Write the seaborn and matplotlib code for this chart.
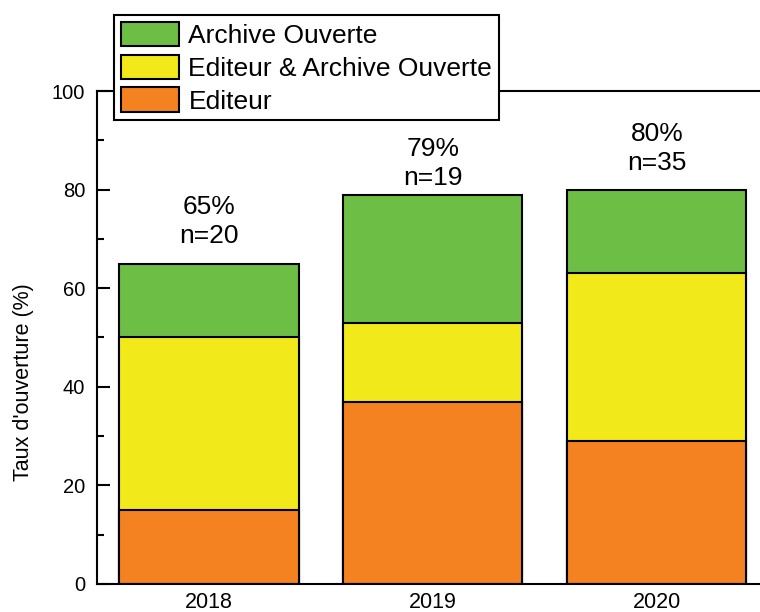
import matplotlib
matplotlib.use("Agg")
import matplotlib.pyplot as plt
import seaborn as sns
import pandas as pd

# === Data ===
years = ["2018", "2019", "2020"]
editeur = [15, 37, 29]
editeur_archive = [35, 16, 34]
archive = [15, 26, 17]
n_papers = [20, 19, 35]
label_gap = [3.2, 0.9, 3.0]

green = "#6cbe45"
yellow = "#f2e91a"
orange = "#f58220"

# === Setup ===
sns.set_theme(style="white")
plt.rcParams["font.family"] = ["Liberation Sans", "DejaVu Sans"]
plt.rcParams["text.color"] = "black"
plt.rcParams["axes.labelcolor"] = "black"
plt.rcParams["xtick.color"] = "black"
plt.rcParams["ytick.color"] = "black"

df = pd.DataFrame({"year": years, "editeur": editeur,
                   "editeur_archive": editeur_archive, "archive": archive})
df["low"] = df["editeur"]
df["mid"] = df["low"] + df["editeur_archive"]
df["top"] = df["mid"] + df["archive"]

fig = plt.figure(figsize=(7.6, 6.12), dpi=100)
ax = fig.add_axes([0.1276, 0.0458, 0.884, 0.8055])

# stacked bars drawn as overlapping cumulative totals
for col, c, lab in [("top", green, "Archive Ouverte"),
                    ("mid", yellow, "Editeur & Archive Ouverte"),
                    ("low", orange, "Editeur")]:
    sns.barplot(data=df, x="year", y=col, color=c, saturation=1, width=0.8,
                edgecolor="black", linewidth=1.5, errorbar=None, label=lab, ax=ax)

# === Labels above bars ===
for i, (total, n) in enumerate(zip(df["top"], n_papers)):
    ax.text(i, total + label_gap[i], f"{total}%\nn={n}", ha="center", va="bottom",
            fontsize=19, linespacing=1.25)

# === Axes styling ===
ax.set_xlim(-0.5, 2.5)
ax.set_ylim(0, 100)
ax.set_yticks(range(0, 101, 20))
ax.set_yticks(range(10, 100, 20), minor=True)
ax.tick_params(axis="y", which="major", direction="in", length=9, width=1.5,
               labelsize=14.5, pad=8.5, left=True)
ax.tick_params(axis="y", which="minor", direction="in", length=5, width=1.5, left=True)
ax.tick_params(axis="x", length=0, labelsize=15.5, pad=6)
ax.set_xlabel("")
ax.set_ylabel("Taux d'ouverture (%)", fontsize=15.5)
ax.yaxis.set_label_coords(-0.094, 0.41)
for s in ax.spines.values():
    s.set_linewidth(1.5)
    s.set_color("black")

# === Legend ===
handles, labels = ax.get_legend_handles_labels()
leg = ax.legend(handles, labels, loc="upper left", bbox_to_anchor=(114 / 760, 1 - 15 / 612),
                bbox_transform=fig.transFigure, borderaxespad=0, fontsize=19,
                handlelength=2.23, handleheight=1.06, labelspacing=0.25,
                handletextpad=0.34, borderpad=0.25, frameon=True, fancybox=False,
                framealpha=1, edgecolor="black")
leg.get_frame().set_linewidth(1.5)
leg.set_zorder(10)

fig.savefig("out.png", dpi=100)
